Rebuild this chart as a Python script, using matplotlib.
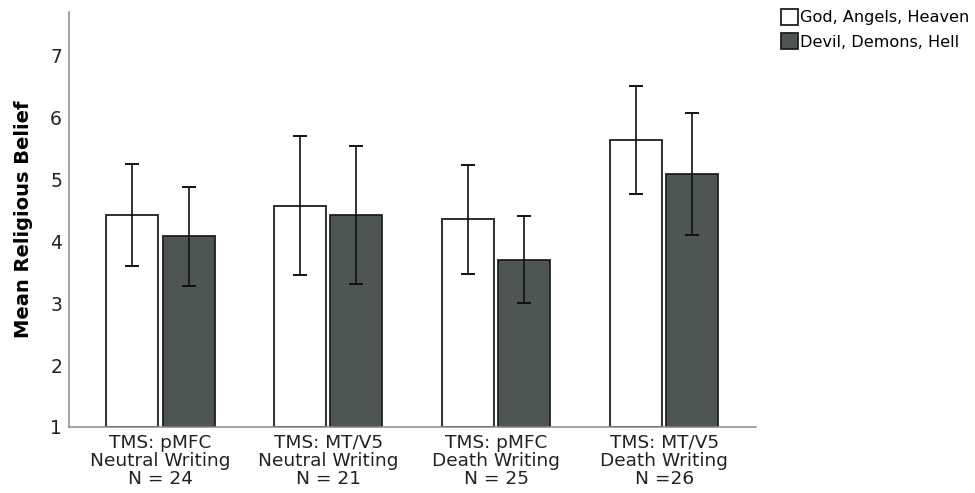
#!/usr/bin/env python3

import matplotlib
import matplotlib.pyplot as plt
import numpy as np

matplotlib.use("Agg")

# data
conditions = [
    "TMS: pMFC\nNeutral Writing\nN = 24",
    "TMS: MT/V5\nNeutral Writing\nN = 21",
    "TMS: pMFC\nDeath Writing\nN = 25",
    "TMS: MT/V5\nDeath Writing\nN =26",
]
series_names = ["God, Angels, Heaven", "Devil, Demons, Hell"]

god_mean = [4.42, 4.57, 4.35, 5.63]
god_low = [3.60, 3.45, 3.47, 4.76]
god_high = [5.24, 5.69, 5.23, 6.50]

devil_mean = [4.09, 4.42, 3.70, 5.08]
devil_low = [3.28, 3.31, 3.00, 4.10]
devil_high = [4.88, 5.54, 4.41, 6.07]

plt.rcParams["font.family"] = "DejaVu Sans"

fig = plt.figure(figsize=(9.75, 4.93), dpi=100)
ax = fig.add_axes([0.0708, 0.134, 0.705, 0.8417])

x = np.arange(len(conditions))
width = 0.31
offset = 0.167
BASE = 1.0


def draw_series(pos, mean, low, high, color, label):
    mean = np.array(mean)
    yerr = [mean - np.array(low), np.array(high) - mean]
    ax.bar(
        pos,
        mean - BASE,
        width,
        bottom=BASE,
        color=color,
        edgecolor="#1e1e1e",
        linewidth=1.3,
        label=label,
        zorder=2,
    )
    ax.errorbar(
        pos,
        mean,
        yerr=yerr,
        fmt="none",
        ecolor="#111111",
        elinewidth=1.2,
        capsize=5,
        capthick=1.4,
        zorder=3,
    )


draw_series(x - offset, god_mean, god_low, god_high, "white", series_names[0])
draw_series(x + offset, devil_mean, devil_low, devil_high, "#4e5651", series_names[1])

ax.set_xlim(-0.545, 3.55)
ax.set_ylim(1, 7.7)
ax.set_yticks(range(1, 8))
ax.set_xticks(x)
ax.set_xticklabels(conditions, fontsize=13.3, linespacing=1.0, color="#222222")
ax.tick_params(axis="both", length=0)
ax.tick_params(axis="y", labelsize=13.5, pad=5, labelcolor="#222222")
ax.tick_params(axis="x", pad=5)

for side in ["top", "right"]:
    ax.spines[side].set_visible(False)
for side in ["left", "bottom"]:
    ax.spines[side].set_color("#8a8a8a")
    ax.spines[side].set_linewidth(1.1)

ax.set_ylabel("Mean Religious Belief", fontsize=14, fontweight="bold", labelpad=12)

fig.legend(
    loc="upper left",
    bbox_to_anchor=(0.801, 0.982),
    frameon=False,
    fontsize=11.6,
    handlelength=1.05,
    handleheight=1.15,
    handletextpad=0.1,
    labelspacing=0.5,
    borderpad=0,
    borderaxespad=0,
)

fig.savefig("out.png", dpi=100)
